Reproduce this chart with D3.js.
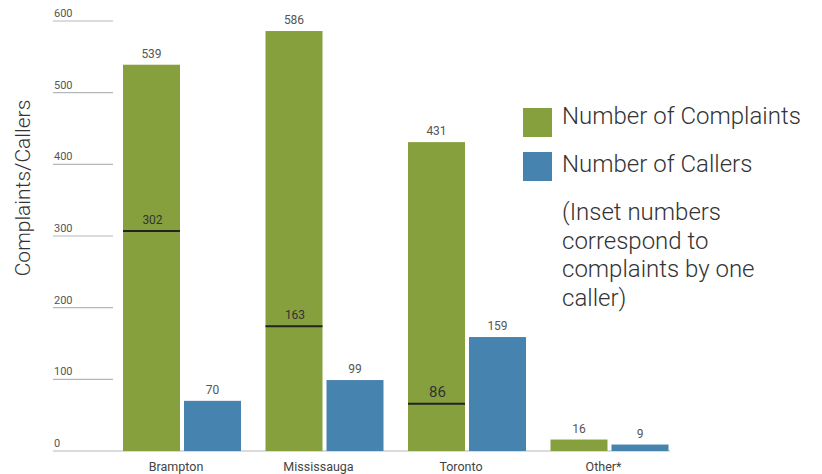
<!DOCTYPE html>
<html><head><meta charset="utf-8">
<script src="https://cdn.jsdelivr.net/npm/d3@7"></script>
<style>body{margin:0;background:#fff}svg{display:block}text{font-family:Roboto,"Open Sans",sans-serif}</style>
</head><body><svg id="c" width="822" height="474"></svg>
<script>
const categories = ["Brampton","Mississauga","Toronto","Other*"];
const complaints = [539,586,431,16];
const callers = [70,99,159,9];
const insetLabels = [302,163,86,null];
const insetLevels = [307,174,66,null];
const yTicks = [0,100,200,300,400,500,600];
const legendItems = ["Number of Complaints","Number of Callers"];
const noteLines = ["(Inset numbers","correspond to","complaints by one","caller)"];

const green = "#87a03e", blue = "#4683af";
const svg = d3.select("#c");
const y = d3.scaleLinear().domain([0,600]).range([451,21]);
const x = d3.scaleBand().domain(categories).range([123,693]).paddingInner(0).paddingOuter(0);
const barW = 57, gap = 4;

const g = svg.append("g");
yTicks.forEach(t=>{
  g.append("line").attr("x1",53).attr("x2",t===0?670:113).attr("y1",y(t)).attr("y2",y(t))
   .attr("stroke","#b3b8bc").attr("stroke-width",1.2);
  g.append("text").attr("x",54).attr("y",y(t)-4).attr("font-size",11).attr("fill","#555").text(t);
});

categories.forEach((c,i)=>{
  const x0 = x(c);
  svg.append("rect").attr("x",x0).attr("y",y(complaints[i])).attr("width",barW).attr("height",y(0)-y(complaints[i])).attr("fill",green);
  svg.append("rect").attr("x",x0+barW+gap).attr("y",y(callers[i])).attr("width",barW).attr("height",y(0)-y(callers[i])).attr("fill",blue);
  svg.append("text").attr("x",x0+barW/2).attr("y",y(complaints[i])-7).attr("text-anchor","middle").attr("font-size",12).attr("fill","#555").text(complaints[i]);
  svg.append("text").attr("x",x0+barW*1.5+gap).attr("y",y(callers[i])-7).attr("text-anchor","middle").attr("font-size",12).attr("fill","#555").text(callers[i]);
  if(insetLabels[i]!==null){
    const ly = y(insetLevels[i]);
    svg.append("line").attr("x1",x0).attr("x2",x0+barW).attr("y1",ly).attr("y2",ly).attr("stroke","#222").attr("stroke-width",2);
    svg.append("text").attr("x",x0+barW/2+1).attr("y",ly-7).attr("text-anchor","middle")
      .attr("font-size",i===2?15:12).attr("fill","#333").text(insetLabels[i]);
  }
  svg.append("text").attr("x",x0+barW+gap/2-6).attr("y",471).attr("text-anchor","middle").attr("font-size",12.5).attr("fill","#444").text(c);
});

svg.append("text").attr("transform","translate(30,188) rotate(-90)").attr("text-anchor","middle")
  .attr("font-size",21).attr("font-weight",300).attr("fill","#333").text("Complaints/Callers");

const lc=[green,blue];
legendItems.forEach((t,i)=>{
  svg.append("rect").attr("x",523).attr("y",108+i*44).attr("width",29).attr("height",29).attr("fill",lc[i]);
  svg.append("text").attr("x",562).attr("y",124+i*48).attr("font-size",24).attr("font-weight",300).attr("fill","#333").text(t);
});
noteLines.forEach((t,i)=>{
  svg.append("text").attr("x",562).attr("y",220+i*28.5).attr("font-size",24).attr("font-weight",300).attr("fill","#333").text(t);
});
</script></body></html>
